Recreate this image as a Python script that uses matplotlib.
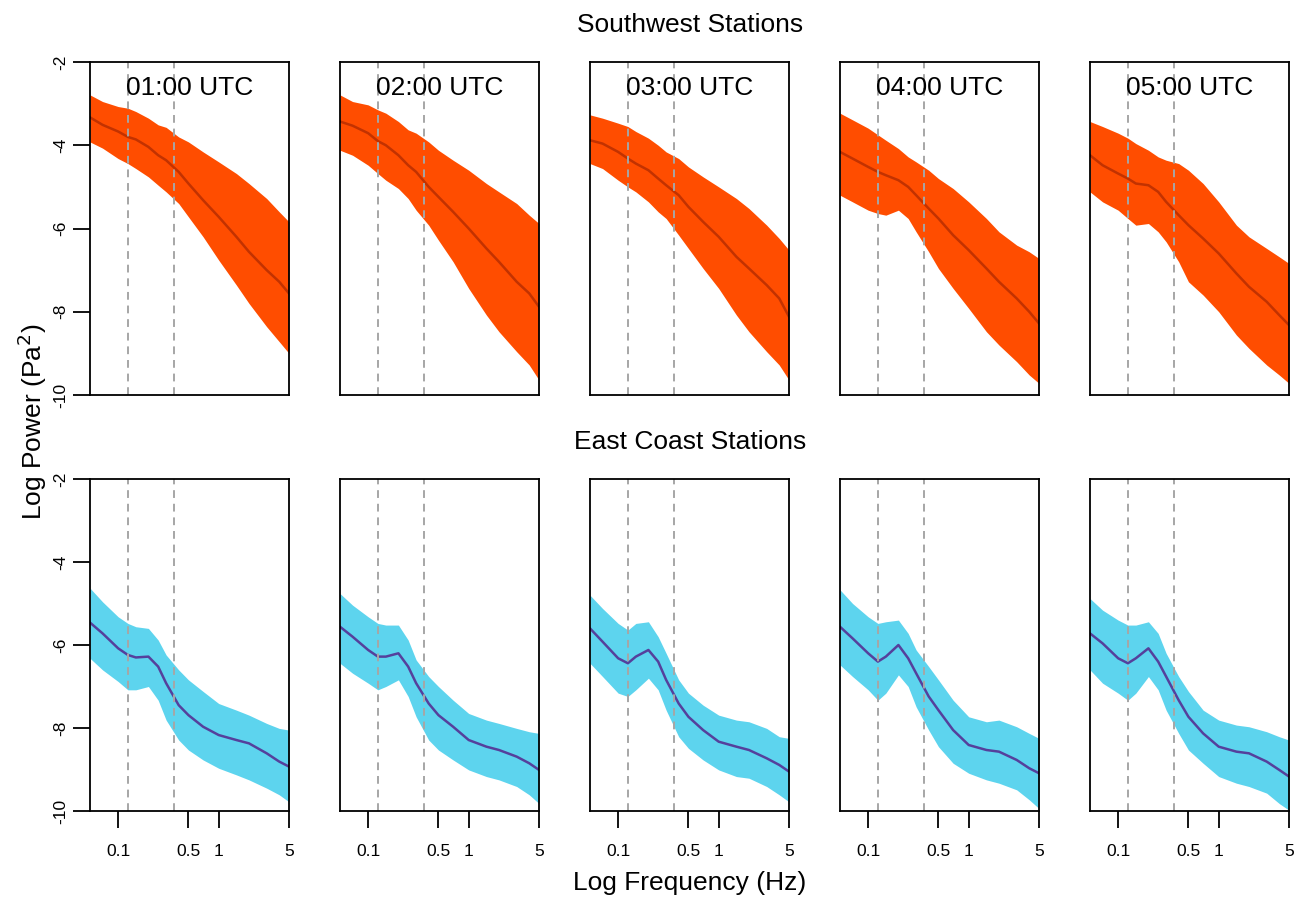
import numpy as np
import matplotlib
matplotlib.use("Agg")
import matplotlib.pyplot as plt

plt.rcParams['font.family'] = ['Liberation Sans', 'DejaVu Sans']
plt.rcParams['axes.unicode_minus'] = False

freq = [0.0525, 0.07, 0.1, 0.125, 0.15, 0.2, 0.25, 0.3, 0.4, 0.5,
        0.7, 1.0, 1.5, 2.0, 3.0, 4.0, 5.0]

hours = ['01:00 UTC', '02:00 UTC', '03:00 UTC', '04:00 UTC', '05:00 UTC']

# Southwest stations: median and band limits (log power)
sw_median = [
    [-3.33, -3.51, -3.67, -3.80, -3.86, -4.04, -4.24, -4.36, -4.64, -4.92, -5.32, -5.72, -6.20, -6.56, -7.00, -7.28, -7.56],
    [-3.43, -3.53, -3.71, -3.90, -4.00, -4.24, -4.48, -4.64, -5.00, -5.24, -5.60, -6.00, -6.48, -6.80, -7.28, -7.56, -7.88],
    [-3.88, -3.96, -4.16, -4.32, -4.44, -4.60, -4.80, -4.96, -5.20, -5.48, -5.84, -6.20, -6.68, -6.96, -7.36, -7.68, -8.12],
    [-4.16, -4.32, -4.52, -4.64, -4.72, -4.84, -5.00, -5.20, -5.52, -5.76, -6.16, -6.52, -6.96, -7.28, -7.68, -8.00, -8.28],
    [-4.24, -4.48, -4.68, -4.80, -4.92, -4.96, -5.12, -5.36, -5.68, -5.92, -6.24, -6.60, -7.08, -7.40, -7.76, -8.08, -8.32],
]
sw_upper = [
    [-2.79, -2.95, -3.07, -3.11, -3.19, -3.35, -3.51, -3.57, -3.80, -3.92, -4.16, -4.40, -4.68, -4.92, -5.28, -5.60, -5.84],
    [-2.79, -2.95, -3.03, -3.15, -3.23, -3.43, -3.63, -3.71, -3.92, -4.12, -4.36, -4.60, -4.92, -5.12, -5.40, -5.68, -5.88],
    [-3.27, -3.35, -3.47, -3.55, -3.67, -3.83, -4.00, -4.16, -4.32, -4.52, -4.76, -5.00, -5.28, -5.52, -5.92, -6.24, -6.52],
    [-3.23, -3.39, -3.59, -3.75, -3.88, -4.08, -4.28, -4.40, -4.60, -4.80, -5.04, -5.36, -5.76, -6.08, -6.40, -6.56, -6.72],
    [-3.43, -3.55, -3.71, -3.83, -3.96, -4.12, -4.28, -4.36, -4.44, -4.60, -4.92, -5.36, -5.92, -6.20, -6.48, -6.68, -6.84],
]
sw_lower = [
    [-3.92, -4.07, -4.32, -4.44, -4.56, -4.76, -4.96, -5.12, -5.40, -5.72, -6.20, -6.76, -7.36, -7.80, -8.36, -8.72, -9.00],
    [-4.12, -4.24, -4.48, -4.68, -4.84, -5.04, -5.28, -5.56, -5.92, -6.28, -6.80, -7.44, -8.08, -8.48, -8.96, -9.28, -9.64],
    [-4.44, -4.56, -4.84, -5.00, -5.12, -5.36, -5.60, -5.76, -6.16, -6.48, -6.96, -7.44, -8.08, -8.48, -8.96, -9.28, -9.64],
    [-5.20, -5.36, -5.56, -5.64, -5.68, -5.56, -5.76, -6.08, -6.56, -6.96, -7.44, -7.92, -8.48, -8.80, -9.20, -9.52, -9.72],
    [-5.12, -5.36, -5.56, -5.76, -5.92, -5.88, -6.08, -6.32, -6.80, -7.28, -7.60, -8.00, -8.56, -8.88, -9.28, -9.52, -9.72],
]

# East Coast stations
ec_median = [
    [-5.46, -5.72, -6.08, -6.24, -6.30, -6.28, -6.52, -6.92, -7.45, -7.69, -7.97, -8.17, -8.29, -8.37, -8.61, -8.81, -8.93],
    [-5.56, -5.80, -6.12, -6.28, -6.28, -6.20, -6.52, -6.92, -7.41, -7.69, -7.97, -8.29, -8.45, -8.53, -8.69, -8.85, -9.01],
    [-5.60, -5.92, -6.32, -6.44, -6.28, -6.12, -6.40, -6.84, -7.41, -7.73, -8.05, -8.33, -8.45, -8.53, -8.73, -8.89, -9.05],
    [-5.56, -5.84, -6.20, -6.40, -6.28, -6.00, -6.32, -6.68, -7.24, -7.57, -8.05, -8.41, -8.53, -8.57, -8.77, -8.97, -9.09],
    [-5.72, -5.96, -6.32, -6.44, -6.32, -6.08, -6.40, -6.76, -7.33, -7.73, -8.13, -8.45, -8.57, -8.61, -8.81, -9.01, -9.17],
]
ec_upper = [
    [-4.63, -4.96, -5.32, -5.48, -5.56, -5.60, -5.88, -6.24, -6.60, -6.84, -7.12, -7.41, -7.57, -7.69, -7.89, -8.01, -8.05],
    [-4.76, -5.04, -5.32, -5.48, -5.52, -5.52, -5.88, -6.36, -6.76, -7.00, -7.33, -7.65, -7.81, -7.89, -8.01, -8.09, -8.13],
    [-4.80, -5.12, -5.48, -5.64, -5.48, -5.44, -5.80, -6.20, -6.84, -7.16, -7.45, -7.69, -7.81, -7.85, -8.01, -8.21, -8.25],
    [-4.67, -5.00, -5.32, -5.48, -5.44, -5.40, -5.72, -6.12, -6.52, -6.84, -7.33, -7.73, -7.85, -7.81, -7.97, -8.13, -8.25],
    [-4.88, -5.16, -5.40, -5.52, -5.52, -5.44, -5.72, -6.20, -6.76, -7.12, -7.57, -7.81, -7.93, -7.97, -8.09, -8.21, -8.29],
]
ec_lower = [
    [-6.32, -6.60, -6.88, -7.08, -7.08, -7.00, -7.33, -7.81, -8.29, -8.53, -8.77, -8.97, -9.13, -9.25, -9.45, -9.61, -9.78],
    [-6.44, -6.68, -6.92, -7.08, -7.00, -6.84, -7.24, -7.73, -8.29, -8.53, -8.77, -9.01, -9.17, -9.25, -9.41, -9.61, -9.82],
    [-6.44, -6.76, -7.16, -7.24, -7.08, -6.80, -7.08, -7.57, -8.21, -8.49, -8.77, -9.01, -9.17, -9.21, -9.41, -9.61, -9.78],
    [-6.48, -6.76, -7.08, -7.33, -7.16, -6.72, -7.00, -7.49, -8.05, -8.45, -8.85, -9.09, -9.25, -9.33, -9.49, -9.73, -9.94],
    [-6.60, -6.92, -7.16, -7.33, -7.16, -6.76, -7.08, -7.57, -8.13, -8.53, -8.85, -9.17, -9.33, -9.41, -9.57, -9.82, -9.98],
]

band_freqs = [0.125, 0.36]

SW_FILL, SW_LINE = '#FF4D00', '#C23200'
EC_FILL, EC_LINE = '#5DD4EE', '#55409C'

W, H = 1296, 899
fig = plt.figure(figsize=(W / 100, H / 100), dpi=100)


def panel(x0, y0, y1, lo, hi, med, fill_col, line_col, col, bottom_row, title=None):
    ax = fig.add_axes([x0 / W, 1 - y1 / H, 199 / W, (y1 - y0) / H])
    ax.fill_between(freq, lo, hi, color=fill_col, lw=0)
    ax.plot(freq, med, color=line_col, lw=1.8)
    for f in band_freqs:
        ax.axvline(f, color='#A6A6A6', lw=1.4, ls=(0, (4, 3)))
    ax.set_xscale('log')
    ax.set_xlim(0.0525, 5.0)
    ax.set_ylim(-10, -2)
    for s in ax.spines.values():
        s.set_linewidth(1.3)
    ax.minorticks_off()
    ax.tick_params(direction='out', length=12, width=1.3)
    if col == 0:
        ax.set_yticks([-2, -4, -6, -8, -10])
        ax.set_yticklabels(['-2', '-4', '-6', '-8', '-10'], rotation=90,
                           va='center', fontsize=12.5)
        ax.tick_params(axis='y', pad=4)
    else:
        ax.set_yticks([])
    if bottom_row:
        ax.set_xticks([0.1, 0.5, 1, 5])
        ax.set_xticklabels(['0.1', '0.5', '1', '5'], fontsize=12.5)
        ax.tick_params(axis='x', pad=12)
    else:
        ax.set_xticks([])
    if title:
        ax.text(0.5, 0.90, title, transform=ax.transAxes, ha='center',
                va='baseline', fontsize=19)
    return ax


for c in range(5):
    x0 = 90 + 250 * c
    panel(x0, 62, 395, sw_lower[c], sw_upper[c], sw_median[c],
          SW_FILL, SW_LINE, c, False, hours[c])
    panel(x0, 479, 811, ec_lower[c], ec_upper[c], ec_median[c],
          EC_FILL, EC_LINE, c, True)

fig.text(690 / W, 1 - 32 / H, 'Southwest Stations', ha='center', va='baseline', fontsize=19)
fig.text(690 / W, 1 - 449 / H, 'East Coast Stations', ha='center', va='baseline', fontsize=19)
fig.text(690 / W, 1 - 883 / H, 'Log Frequency (Hz)', ha='center', va='center', fontsize=19)
fig.text(32 / W, 1 - 422 / H, 'Log Power (Pa$^2$)', ha='center', va='center',
         rotation=90, fontsize=19)

fig.savefig('out.png', dpi=100)
